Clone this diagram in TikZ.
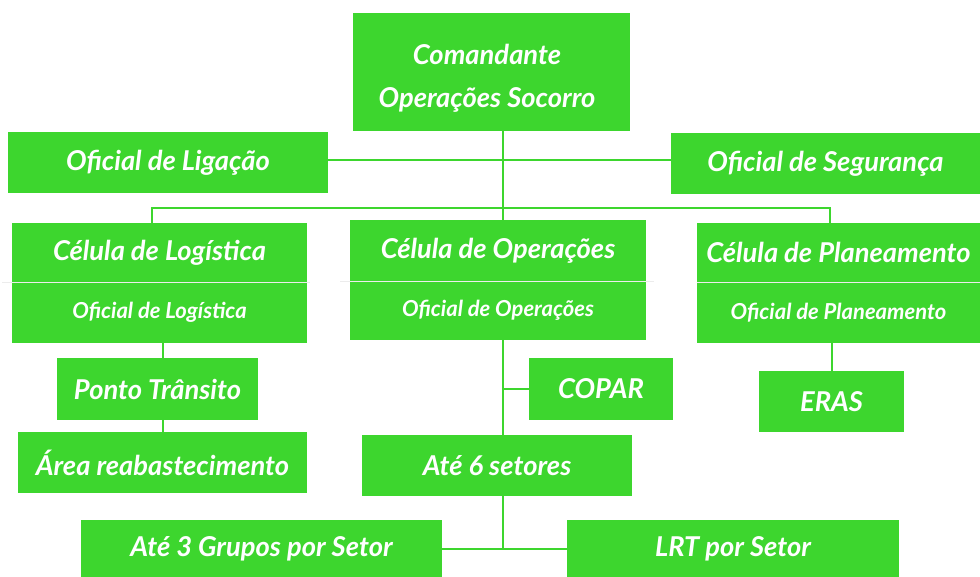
\documentclass[tikz,border=0pt]{standalone}
\usepackage{fontspec}
\setmainfont{Lato}
\usetikzlibrary{backgrounds}
\definecolor{boxgreen}{RGB}{61,214,46}
\definecolor{divgray}{RGB}{236,236,236}

\begin{document}
\begin{tikzpicture}[x=0.75pt, y=-0.75pt,
  box/.style={rectangle, fill=boxgreen, text=white, inner sep=0pt, align=center,
    font=\bfseries\itshape\fontsize{20.5}{32}\selectfont},
  sub/.style={box, font=\bfseries\itshape\fontsize{16.5}{20}\selectfont},
  boxsize/.style 2 args={minimum width=#1*0.75pt, minimum height=#2*0.75pt},
  link/.style={draw=boxgreen, line width=1.5pt},
  divider/.style={draw=divgray, line width=0.8pt}
]
\useasboundingbox (0,0) rectangle (980,577);

% Top
\node[box, boxsize={277}{118}] (cmd) at (491.5,72) {};
\node[box] (cmdtxt) at (487,78) {Comandante\\Operações Socorro};
\node[box, boxsize={320}{61}] (lig) at (168,162.5) {Oficial de Ligação};
\node[box, boxsize={309}{61}] (seg) at (825.5,163.5) {Oficial de Segurança};

% Cells
\node[box, boxsize={295}{59}] (logT) at (159.5,252.5) {Célula de Logística};
\node[sub, boxsize={295}{61}] (logB) at (159.5,312.5) {Oficial de Logística};
\node[box, boxsize={296}{61}] (opsT) at (498,250.5) {Célula de Operações};
\node[sub, boxsize={296}{59}] (opsB) at (498,310.5) {Oficial de Operações};
\node[box, boxsize={283}{59}] (planT) at (838.5,252.5) {Célula de Planeamento};
\node[sub, boxsize={283}{61}] (planB) at (838.5,312.5) {Oficial de Planeamento};

% Lower boxes
\node[box, boxsize={201}{62}] (ponto) at (157.5,389) {Ponto Trânsito};
\node[box, boxsize={289}{61}] (area) at (162.5,462.5) {Área reabastecimento};
\node[box, boxsize={144}{62}] (copar) at (601,389) {COPAR};
\node[box, boxsize={270}{61}] (six) at (497,465.5) {Até 6 setores};
\node[box, boxsize={145}{61}] (eras) at (831.5,401.5) {ERAS};
\node[box, boxsize={361}{57}] (grp) at (261.5,548.5) {Até 3 Grupos por Setor};
\node[box, boxsize={332}{57}] (lrt) at (733,548.5) {LRT por Setor};

% Dividers
\draw[divider] ([xshift=-7pt]logT.south west) -- ([xshift=2pt]logT.south east);
\draw[divider] ([xshift=-7pt]opsT.south west) -- ([xshift=6pt]opsT.south east);
\draw[divider] (planT.south west) -- (planT.south east);

% Connectors
\coordinate (trunk) at (503,208);
\coordinate (busL) at (152,208);
\coordinate (busR) at (830,208);
\begin{scope}[on background layer]
\draw[link] ([yshift=2pt]lig.east) -- ([yshift=2pt]lig.east -| seg.west);
\draw[link] (cmd.south -| trunk) -- (opsT.north -| trunk);
\draw[link] (logT.north -| busL) |- (busR) -- (planT.north -| busR);
\draw[link] (logB.south -| area.north) -- (ponto.north -| area.north);
\draw[link] (ponto.south -| area.north) -- (area.north);
\draw[link] (opsB.south -| trunk) -- (six.north -| trunk);
\draw[link] (copar.west) -- (copar.west -| trunk);
\draw[link] (six.south -| trunk) -- (trunk |- lrt.west);
\draw[link] (grp.east) -- (lrt.west);
\draw[link] (planB.south -| eras.north) -- (eras.north);
\end{scope}

\end{tikzpicture}
\end{document}
